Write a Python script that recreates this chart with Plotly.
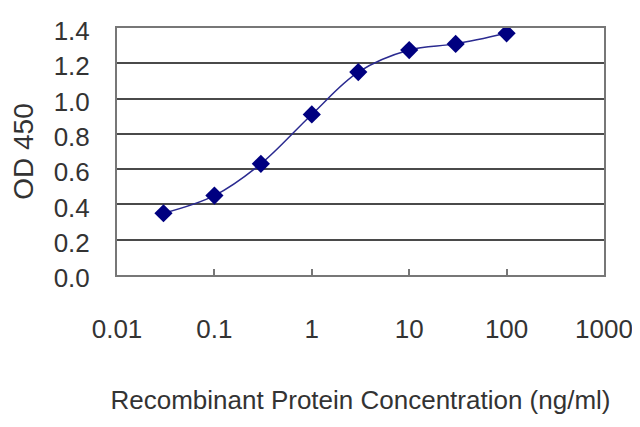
import plotly.graph_objects as go

# concentration (ng/ml) and OD450 readings
conc = [0.03, 0.1, 0.3, 1, 3, 10, 30, 100]
od450 = [0.35, 0.45, 0.63, 0.91, 1.15, 1.275, 1.31, 1.37]

x_ticks = [0.01, 0.1, 1, 10, 100, 1000]
x_tick_text = ["0.01", "0.1", "1", "10", "100", "1000"]
y_ticks = [0.0, 0.2, 0.4, 0.6, 0.8, 1.0, 1.2, 1.4]
y_tick_text = ["0.0", "0.2", "0.4", "0.6", "0.8", "1.0", "1.2", "1.4"]

font_family = "Liberation Sans, Arial, sans-serif"

fig = go.Figure()
fig.add_trace(go.Scatter(
    x=conc, y=od450,
    mode="lines+markers",
    line=dict(color="#2a2a90", width=1.5, shape="spline", smoothing=1),
    marker=dict(symbol="diamond", size=14, color="#000080",
                line=dict(color="#000080", width=0)),
    showlegend=False,
))

# page body adds an 8px margin, so the figure is a bit smaller than the window
fig.update_layout(
    width=632, height=411,
    margin=dict(l=109, r=36, t=20, b=144),
    paper_bgcolor="white",
    plot_bgcolor="white",
    font=dict(family=font_family, color="#333333", size=26),
    xaxis=dict(
        type="log", range=[-2, 3],
        tickvals=x_ticks, ticktext=x_tick_text,
        ticks="inside", ticklen=6, tickwidth=1.5, tickcolor="#777777",
        ticklabelstandoff=30,
        ticklabeloverflow="allow",
        showgrid=False, zeroline=False,
        showline=True, linecolor="#777777", linewidth=2, mirror=True,
        automargin=False,
        tickfont=dict(size=26),
        title=dict(text="Recombinant Protein Concentration (ng/ml)",
                   font=dict(size=26), standoff=48),
    ),
    yaxis=dict(
        range=[0, 1.4],
        tickvals=y_ticks, ticktext=y_tick_text,
        ticks="",
        ticklabelstandoff=20,
        ticklabelshift=3,
        showgrid=True, gridcolor="#4a4a4a", gridwidth=2,
        zeroline=False,
        showline=True, linecolor="#777777", linewidth=2, mirror=True,
        automargin=False,
        tickfont=dict(size=26),
        title=dict(text="OD 450", font=dict(size=28), standoff=19),
    ),
)

fig.write_html("out.html")
